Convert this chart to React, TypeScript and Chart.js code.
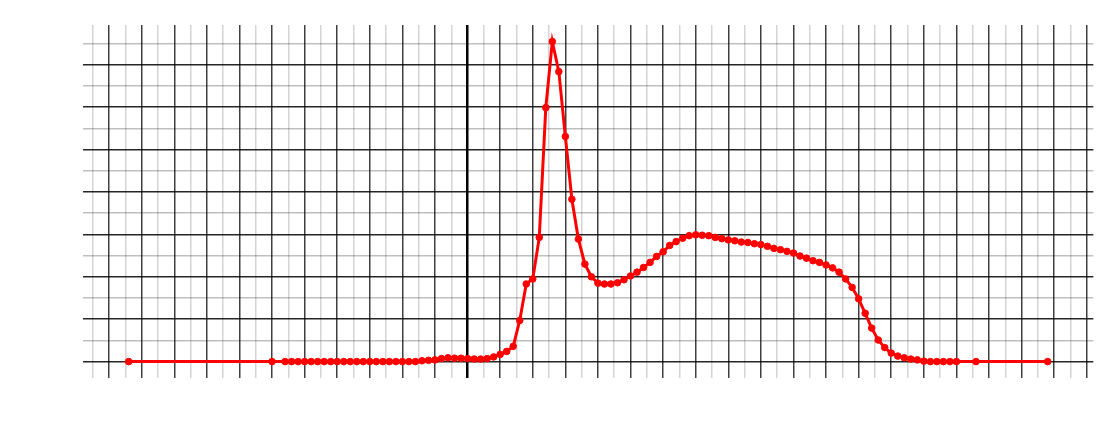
import React, { useEffect, useRef } from 'react';
import { Chart, registerables } from 'chart.js';

Chart.register(...registerables);

// x positions of the samples (grid: minor line every 5, major every 10, zero line emphasised)
const xValues = [
  -104, -60,
  -56, -54, -52, -50, -48, -46, -44, -42, -40, -38, -36, -34, -32, -30, -28, -26, -24, -22, -20, -18, -16,
  -14, -12, -10, -8, -6, -4, -2, 0, 2, 4, 6, 8, 10, 12, 14, 16, 18, 20, 22, 24, 26, 28, 30, 32, 34, 36, 38,
  40, 42, 44, 46, 48, 50, 52, 54, 56, 58, 60, 62, 64, 66, 68, 70, 72, 74, 76, 78, 80, 82, 84, 86, 88, 90,
  92, 94, 96, 98, 100, 102, 104, 106, 108, 110, 112, 114, 116, 118, 120, 122, 124, 126, 128, 130, 132, 134,
  136, 138, 140, 142, 144, 146, 148, 150,
  156, 178,
];

// measured values of the red series (one per x position)
const yValues = [
  0, 0,
  0, 0, 0, 0, 0, 0, 0, 0, 0, 0, 0, 0, 0, 0, 0, 0, 0, 0, 0, 0, 0,
  0.02, 0.03, 0.04, 0.07, 0.09, 0.08, 0.08, 0.07, 0.06, 0.06, 0.07, 0.11, 0.17, 0.24, 0.36, 0.97, 1.83, 1.95,
  2.93, 5.99, 7.55, 6.84, 5.31, 3.83, 2.89, 2.3, 2.0,
  1.85, 1.83, 1.83, 1.86, 1.93, 2.02, 2.11, 2.22, 2.34, 2.48, 2.59, 2.74, 2.83, 2.91, 2.97, 2.99, 2.98, 2.97,
  2.93, 2.9, 2.87, 2.85, 2.82, 2.81, 2.78, 2.76,
  2.72, 2.67, 2.64, 2.6, 2.56, 2.49, 2.44, 2.38, 2.34, 2.28, 2.21, 2.11, 1.95, 1.75, 1.48, 1.14, 0.79, 0.51,
  0.33, 0.2, 0.13, 0.09,
  0.06, 0.04, 0.01, 0, 0, 0, 0, 0,
  0, 0,
];

const xRange = [-118.1, 192];
const yRange = [-0.38, 7.94];

export default function App() {
  const ref = useRef<HTMLCanvasElement | null>(null);

  useEffect(() => {
    if (!ref.current) return;
    const points = xValues.map((x, i) => ({ x, y: yValues[i] }));
    const chart = new Chart(ref.current, {
      type: 'line',
      data: {
        datasets: [
          {
            data: points,
            borderColor: '#ff0000',
            backgroundColor: '#ff0000',
            borderWidth: 3,
            pointRadius: 3.3,
            pointBorderWidth: 1,
            pointBackgroundColor: '#ff0000',
            pointBorderColor: '#ff0000',
            tension: 0,
            fill: false,
          },
        ],
      },
      options: {
        animation: false,
        responsive: false,
        devicePixelRatio: 1,
        layout: { padding: { left: 82.7, right: 6.7, top: 25, bottom: 45.3 } },
        plugins: { legend: { display: false }, tooltip: { enabled: false } },
        scales: {
          x: {
            type: 'linear',
            min: xRange[0],
            max: xRange[1],
            border: { display: false },
            ticks: { display: false, stepSize: 5, includeBounds: false, autoSkip: false },
            grid: {
              drawTicks: false,
              color: (ctx: any) => {
                const v = Math.round(ctx.tick.value);
                if (v === 0) return '#000000';
                return v % 10 === 0 ? 'rgba(0,0,0,0.75)' : 'rgba(0,0,0,0.17)';
              },
              lineWidth: (ctx: any) => {
                const v = Math.round(ctx.tick.value);
                if (v === 0) return 2.5;
                return 1.5;
              },
            },
          },
          y: {
            type: 'linear',
            min: yRange[0],
            max: yRange[1],
            border: { display: false },
            ticks: { display: false, stepSize: 0.5, includeBounds: false, autoSkip: false },
            grid: {
              drawTicks: false,
              color: (ctx: any) => {
                const v = Math.round(ctx.tick.value * 10);
                return v % 10 === 0 ? 'rgba(0,0,0,0.85)' : 'rgba(0,0,0,0.25)';
              },
              lineWidth: 1.5,
            },
          },
        },
      },
    });
    return () => chart.destroy();
  }, []);

  return (
    <div style={{ position: 'absolute', left: 0, top: 0, width: 1100, height: 423, background: '#fff' }}>
      <canvas ref={ref} width={1100} height={423} style={{ display: 'block' }} />
    </div>
  );
}
